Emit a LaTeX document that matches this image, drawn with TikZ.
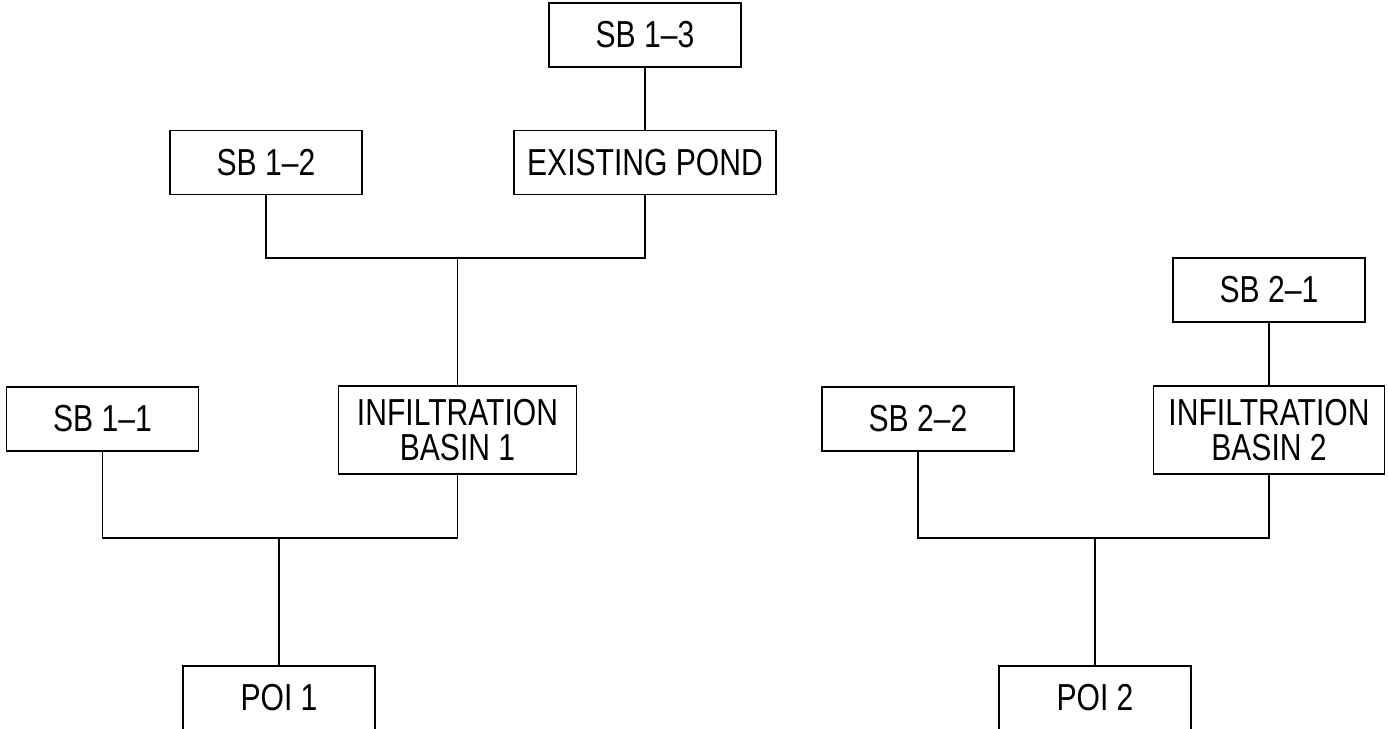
\documentclass[tikz,border=0pt]{standalone}
\usepackage{fontspec}
\setmainfont[FakeStretch=0.8]{Liberation Sans}
\begin{document}
\begin{tikzpicture}[x=0.02cm,y=-0.02cm,
  box/.style={draw,line width=0.9pt,minimum width=3.84cm,minimum height=1.28cm,
    inner sep=0pt,align=center,font=\fontsize{21.4}{20.4}\selectfont},
  basin/.style={box,minimum height=1.76cm},
  link/.style={line width=0.9pt}]
\useasboundingbox (0,0) rectangle (1389,729);
% watershed 1
\node[box] (sb13) at (645,35) {SB 1--3};
\node[box,minimum width=5.24cm] (pond) at (645,162.5) {EXISTING POND};
\node[box] (sb12) at (266,162.5) {SB 1--2};
\node[basin,minimum width=4.76cm] (ib1) at (457.5,430) {INFILTRATION\\BASIN 1};
\node[box] (sb11) at (102.5,419) {SB 1--1};
\node[box] (poi1) at (279,698) {POI 1};
\coordinate (j1) at (457.5,258);
\coordinate (j2) at (279,538);
\draw[link] (sb13) -- (pond);
\draw[link] (sb12.south) |- (j1) -| (pond.south);
\draw[link] (j1) -- (ib1.north);
\draw[link] (sb11.south) |- (j2) -| (ib1.south);
\draw[link] (j2) -- (poi1.north);

% watershed 2
\node[box] (sb21) at (1269,290) {SB 2--1};
\node[basin,minimum width=4.62cm] (ib2) at (1269,430) {INFILTRATION\\BASIN 2};
\node[box] (sb22) at (918,419) {SB 2--2};
\node[box] (poi2) at (1095,698) {POI 2};
\coordinate (j3) at (1095,538);
\draw[link] (sb21) -- (ib2);
\draw[link] (sb22.south) |- (j3) -| (ib2.south);
\draw[link] (j3) -- (poi2.north);
\end{tikzpicture}
\end{document}
